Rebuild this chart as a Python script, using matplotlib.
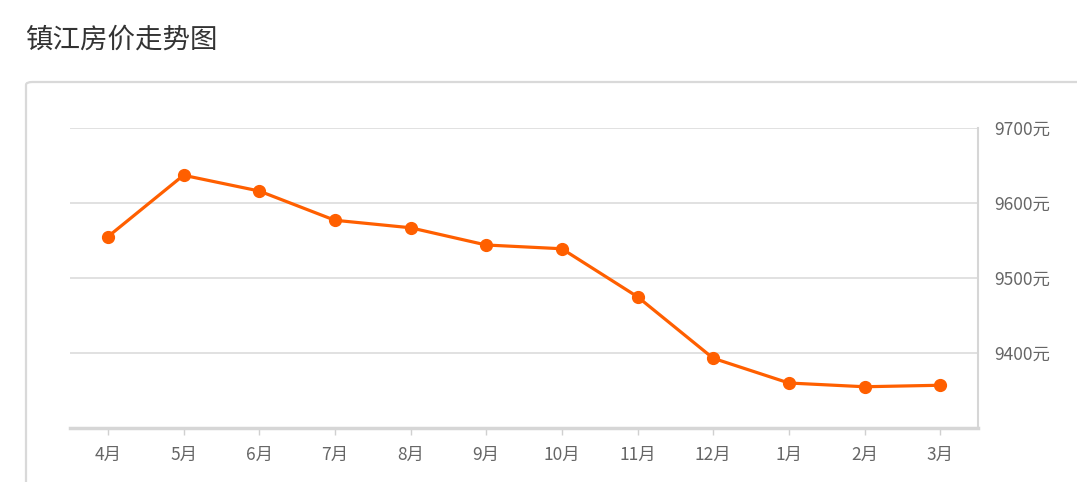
import matplotlib
matplotlib.use("Agg")
import matplotlib.pyplot as plt
from matplotlib.patches import FancyBboxPatch

plt.rcParams['font.family'] = ['Noto Sans CJK SC', 'DejaVu Sans']

months = ["4月", "5月", "6月", "7月", "8月", "9月", "10月", "11月", "12月", "1月", "2月", "3月"]
prices = [9555, 9637, 9616, 9577, 9567, 9544, 9539, 9475, 9393, 9360, 9355, 9357]
yticks = [9400, 9500, 9600, 9700]
ytick_labels = [f"{v}元" for v in yticks]
title = "镇江房价走势图"

W, H = 1077, 482
fig = plt.figure(figsize=(W / 100, H / 100), dpi=100)

# card border
card = FancyBboxPatch((26 / W, -20 / H), (W + 20 - 26) / W, (482 - 82 + 20) / H,
                      boxstyle="round,pad=0,rounding_size=0.006",
                      transform=fig.transFigure, facecolor="white",
                      edgecolor="#d9d9d9", linewidth=1.6, zorder=-5)
fig.patches.append(card)

fig.text(25 / W, 1 - 40 / H, title, fontsize=19.8, color="#333333",
         ha="left", va="center")

ax = fig.add_axes([70 / W, (H - 428) / H, (978 - 70) / W, (428 - 128) / H])
ax.set_zorder(2)
ax.set_facecolor("none")
x = list(range(len(months)))
ax.plot(x, prices, color="#ff5f00", linewidth=2.3, marker="o", markersize=8.5,
        zorder=3, clip_on=False)

ax.set_xlim(-0.5, len(months) - 0.5)
ax.set_ylim(9300, 9700)
ax.set_xticks(x)
ax.set_xticklabels(months)
ax.set_yticks(yticks)
ax.set_yticklabels(ytick_labels)
ax.yaxis.tick_right()
ax.tick_params(axis="y", length=0, pad=12, labelsize=12.5, labelcolor="#666666")
ax.tick_params(axis="x", length=5, width=1, color="#d0d0d0", pad=8,
               labelsize=12.5, labelcolor="#666666")

ax.grid(axis="y", color="#dcdcdc", linewidth=1.2)
ax.set_axisbelow(True)
for s in ["top", "left"]:
    ax.spines[s].set_visible(False)
ax.spines["bottom"].set_color("#d6d6d6")
ax.spines["bottom"].set_linewidth(2.5)
ax.spines["right"].set_color("#d6d6d6")
ax.spines["right"].set_linewidth(1.5)

fig.savefig("out.png", dpi=100)
